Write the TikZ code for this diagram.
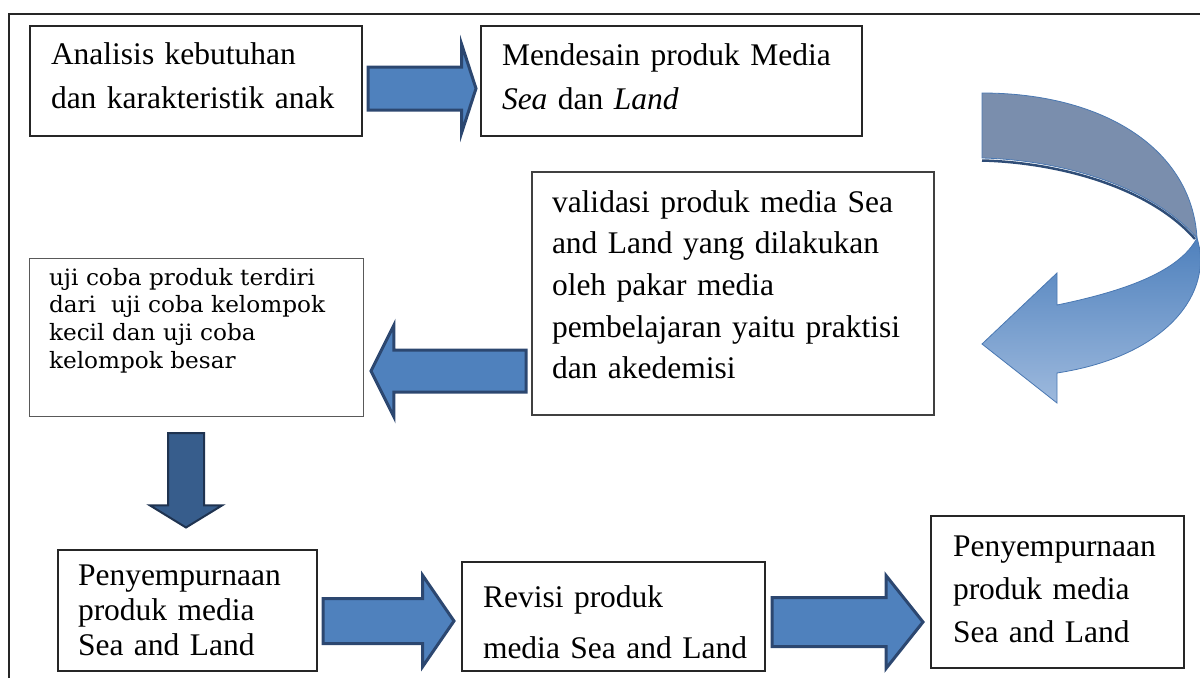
\documentclass[tikz,border=0pt]{standalone}
\usepackage{fontspec}
\setmainfont{Liberation Serif}
\newfontfamily\ujifont[FakeStretch=1.03]{DejaVu Serif}
\usetikzlibrary{shapes.arrows,calc}
\definecolor{arrowfill}{HTML}{4F81BD}
\definecolor{arrowline}{HTML}{2C4770}
\definecolor{downfill}{HTML}{375D8C}
\definecolor{downline}{HTML}{1F3350}
\definecolor{bandtop}{HTML}{7A8EAD}
\definecolor{bandlight}{HTML}{9DB9DD}
\definecolor{bandedge}{HTML}{4A78B2}
\definecolor{bandshadow}{HTML}{2F4D77}
\begin{document}
\begin{tikzpicture}[x=1pt,y=-1pt,
  stage/.style={draw=black!85, line width=1.2pt, anchor=north west, align=left,
    inner ysep=0pt, outer sep=0pt, font=\fontsize{31.5}{44}\selectfont},
  flow/.style={single arrow, draw=arrowline, fill=arrowfill, line width=3pt,
    inner xsep=0pt, outer sep=0pt, anchor=tail, line join=miter}]
  \useasboundingbox (0,0) rectangle (1200,678);
  \draw[line width=1.8pt, black!85] (9,678) -- (9,14) -- (1200,14);

  \node[stage, inner xsep=21pt, text width=290pt, text height=38pt, text depth=72pt]
    (ana) at (30,26) {Analisis kebutuhan\\dan karakteristik anak};
  \node[stage, inner xsep=21pt, text width=339pt, text height=39pt, text depth=71pt]
    (desain) at (481,26) {Mendesain produk Media\\\textit{Sea} dan \textit{Land}};
  \node[stage, draw=black!75, inner xsep=20pt, text width=362pt, text height=40pt, text depth=203pt,
    font=\fontsize{31.5}{41.7}\selectfont]
    (val) at (532,172) {validasi produk media Sea\\and Land yang dilakukan\\oleh pakar media\\pembelajaran yaitu praktisi\\dan akedemisi};
  \node[stage, draw=black!65, line width=0.9pt, inner xsep=20pt, text width=294pt, text height=27pt, text depth=131pt,
    font=\ujifont\fontsize{22.5}{27.7}\selectfont]
    (uji) at (29,258) {uji coba produk terdiri\\dari\ \ uji coba kelompok\\kecil dan uji coba\\kelompok besar};
  \node[stage, inner xsep=20pt, text width=219pt, text height=35pt, text depth=86pt,
    font=\fontsize{31.5}{35}\selectfont]
    (sempurna) at (58,550) {Penyempurnaan\\produk media\\Sea and Land};
  \node[stage, inner xsep=21pt, text width=261pt, text height=45pt, text depth=64pt,
    font=\fontsize{31.5}{51}\selectfont]
    (revisi) at (462,562) {Revisi produk\\media~Sea~and~Land};
  \node[stage, inner xsep=22pt, text width=209pt, text height=40pt, text depth=112pt,
    font=\fontsize{31.5}{43}\selectfont]
    (akhir) at (931,516) {Penyempurnaan\\produk media\\Sea and Land};

  % block arrows between the stages
  \node[flow, minimum height=108pt, inner ysep=20pt, single arrow head extend=23pt,
    single arrow tip angle=144] (a2b) at ($(ana.east)+(6,7.5)$) {};
  \node[flow, shape border rotate=180, minimum height=155pt, inner ysep=19.5pt,
    single arrow head extend=25pt, single arrow tip angle=127] (c2d) at ($(val.west)+(-6,77.5)$) {};
  \node[flow, shape border rotate=270, fill=downfill, draw=downline, line width=2pt,
    minimum height=94.5pt, inner xsep=17pt, inner ysep=0pt, single arrow head extend=18pt,
    single arrow tip angle=117] (d2e) at ($(uji.south)+(-10,17)$) {};
  \node[flow, minimum height=131pt, inner ysep=21pt, single arrow head extend=23pt,
    single arrow tip angle=111] (e2f) at ($(sempurna.east)+(6,10.5)$) {};
  \node[flow, minimum height=151pt, inner ysep=23pt, single arrow head extend=22pt,
    single arrow tip angle=103] (f2g) at ($(revisi.east)+(7,5.5)$) {};

  % curved arrow from desain down to val
  \fill[bandtop, draw=bandedge, line width=0.8pt] (982,93) .. controls (1105,93) and (1192,150) .. (1197,238)
    .. controls (1150,185) and (1060,160) .. (982,158) -- cycle;
  \draw[bandshadow, line width=2.5pt] (982,160.5) .. controls (1060,162.5) and (1150,187.5) .. (1195,239);
  \shadedraw[top color=arrowfill, bottom color=bandlight, draw=bandedge, line width=0.8pt]
    (1197,238) .. controls (1214,292) and (1168,356) .. (1057,373) -- (1057,403) -- (982,344)
    -- (1057,273) -- (1057,305) .. controls (1130,290) and (1180,270) .. (1197,238) -- cycle;
\end{tikzpicture}
\end{document}
